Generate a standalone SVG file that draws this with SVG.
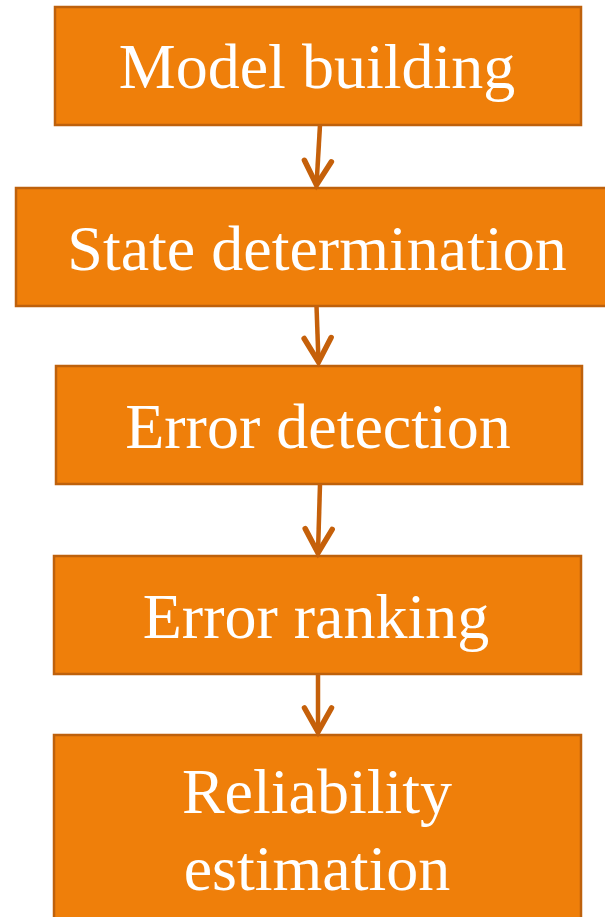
<svg xmlns="http://www.w3.org/2000/svg" width="605" height="917" viewBox="0 0 605 917">
  <style>
    .box { fill: #EF7F0A; stroke: #BE610C; stroke-width: 2.5; }
    .lbl { font-family: "Liberation Serif", "Times New Roman", serif; font-size: 64px; fill: #FFFFFF; text-anchor: middle; }
    .conn { stroke: #C5600A; stroke-width: 4.5; fill: none; marker-end: url(#vhead); }
  </style>
  <defs>
    <marker id="vhead" markerUnits="userSpaceOnUse" markerWidth="40" markerHeight="40" refX="0" refY="0" orient="auto" overflow="visible">
      <path d="M -24 -13.5 L 0 0 L -24 13.5" fill="none" stroke="#C5600A" stroke-width="5.5" stroke-linecap="round" stroke-linejoin="miter"/>
    </marker>
  </defs>
  <rect width="605" height="917" fill="#FFFFFF"/>

  <g id="n1">
    <rect class="box" x="55" y="7" width="526" height="118"/>
    <text class="lbl" x="317" y="88">Model building</text>
  </g>
  <g id="n2">
    <rect class="box" x="16" y="188" width="600" height="118"/>
    <text class="lbl" x="317" y="270">State determination</text>
  </g>
  <g id="n3">
    <rect class="box" x="56" y="366" width="526" height="118"/>
    <text class="lbl" x="318" y="448">Error detection</text>
  </g>
  <g id="n4">
    <rect class="box" x="54" y="556" width="527" height="118"/>
    <text class="lbl" x="316" y="638">Error ranking</text>
  </g>
  <g id="n5">
    <rect class="box" x="54" y="735" width="527" height="200"/>
    <text class="lbl" x="317" y="813">Reliability</text>
    <text class="lbl" x="317" y="890">estimation</text>
  </g>

  <g id="connectors">
    <path class="conn" d="M 320 125 L 316.5 185"/>
    <path class="conn" d="M 316.5 306 L 318.5 362"/>
    <path class="conn" d="M 320 484 L 318 553"/>
    <path class="conn" d="M 318 674 L 318 732"/>
  </g>
</svg>
